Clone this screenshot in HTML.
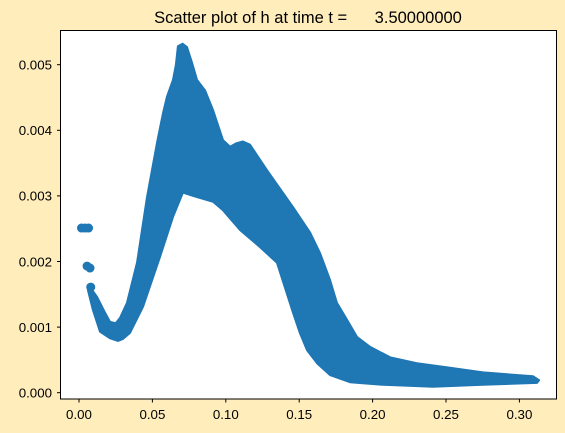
<!DOCTYPE html>
<html><head><meta charset="utf-8"><style>
html,body{margin:0;padding:0;background:#ffedbc;}
svg{display:block;font-family:"Liberation Sans","DejaVu Sans",sans-serif;}
</style></head><body>
<svg id="chart" width="565" height="433" viewBox="0 0 565 433" xmlns="http://www.w3.org/2000/svg">
<rect x="0" y="0" width="565" height="433" fill="#ffedbc"/>
<rect x="60.5" y="30.5" width="496" height="368.5" fill="#ffffff"/>
<g id="marks"></g>
<rect x="60.5" y="30.5" width="496" height="368.5" fill="none" stroke="#000" stroke-width="1"/>
<g id="xaxis"></g>
<g id="yaxis"></g>
<text x="308" y="23" text-anchor="middle" font-size="16.5" fill="#000" xml:space="preserve">Scatter plot of h at time t =      3.50000000</text>
</svg>
<script>
const xTicks = [0, 0.05, 0.10, 0.15, 0.20, 0.25, 0.30];
const xTickLabels = ["0.00","0.05","0.10","0.15","0.20","0.25","0.30"];
const yTicks = [0, 0.001, 0.002, 0.003, 0.004, 0.005];
const yTickLabels = ["0.000","0.001","0.002","0.003","0.004","0.005"];
const upperX = [.0075,.0123,.0170,.0211,.0250,.0279,.0327,.0395,.0463,.0531,.0572,.0599,.0640,.0660,.0674,.0705,.0736,.0770,.0804,.0858,.0913,.0981,.1029,.1070,.1117,.1165,.1281,.1458,.1574,.1642,.1710,.1757,.1826,.1894,.1982,.2119,.2302,.2527,.2752,.3093,.3134];
const upperY = [.00161,.00146,.00125,.00108,.00106,.00114,.00137,.00198,.00298,.00381,.00426,.00451,.00477,.00500,.00528,.00532,.00527,.00503,.00477,.00461,.00431,.00385,.00375,.00380,.00383,.00378,.00339,.00283,.00244,.00213,.00172,.00137,.00111,.00085,.00070,.00054,.00045,.00038,.00031,.00025,.00019];
const lowerX = [.3120,.2752,.2411,.2071,.1846,.1710,.1621,.1553,.1505,.1458,.1349,.1233,.1097,.0981,.0913,.0777,.0708,.0640,.0552,.0436,.0347,.0300,.0266,.0211,.0143,.0095,.0061];
const lowerY = [.00015,.00012,.00009,.00012,.00016,.00027,.00045,.00065,.00091,.00122,.00198,.00222,.00248,.00278,.00291,.00300,.00305,.00268,.00207,.00131,.00091,.00082,.00079,.00083,.00093,.00126,.00156];
const blobX = [.0017,.0041,.0065,.0055,.0075,.0080];
const blobY = [.00251,.00251,.00251,.00193,.00190,.00161];

const NS = "http://www.w3.org/2000/svg";
function sx(v){ return 79 + v * 1468; }
function sy(v){ return 392.7 - v * 65600; }
const marks = document.getElementById('marks');
const col = "#1f77b4";

let d = "";
for (let i = 0; i < upperX.length; i++) d += (i ? "L" : "M") + sx(upperX[i]).toFixed(1) + "," + sy(upperY[i]).toFixed(1);
for (let i = 0; i < lowerX.length; i++) d += "L" + sx(lowerX[i]).toFixed(1) + "," + sy(lowerY[i]).toFixed(1);
d += "Z";
const band = document.createElementNS(NS, "path");


band.setAttribute("d", d);
band.setAttribute("fill", col);
band.setAttribute("stroke", col);
band.setAttribute("stroke-width", "2");
band.setAttribute("stroke-linejoin", "round");
marks.appendChild(band);

for (let i = 0; i < blobX.length; i++) {
  const c = document.createElementNS(NS, "circle");
  
  
  c.setAttribute("cx", sx(blobX[i]));
  c.setAttribute("cy", sy(blobY[i]));
  c.setAttribute("r", 4.5);
  c.setAttribute("fill", col);
  marks.appendChild(c);
}

const xa = document.getElementById('xaxis');
xTicks.forEach((v, i) => {
  const t = document.createElementNS(NS, "line");
  
  
  t.setAttribute("x1", sx(v)); t.setAttribute("x2", sx(v));
  t.setAttribute("y1", 399); t.setAttribute("y2", 402.5);
  t.setAttribute("stroke", "#000");
  xa.appendChild(t);
  const l = document.createElementNS(NS, "text");
  
  
  l.setAttribute("x", sx(v)); l.setAttribute("y", 419);
  l.setAttribute("text-anchor", "middle");
  l.setAttribute("font-size", "13.3");
  l.textContent = xTickLabels[i];
  xa.appendChild(l);
});
const ya = document.getElementById('yaxis');
yTicks.forEach((v, i) => {
  const t = document.createElementNS(NS, "line");
  
  
  t.setAttribute("x1", 57); t.setAttribute("x2", 60.5);
  t.setAttribute("y1", sy(v)); t.setAttribute("y2", sy(v));
  t.setAttribute("stroke", "#000");
  ya.appendChild(t);
  const l = document.createElementNS(NS, "text");
  
  
  l.setAttribute("x", 52); l.setAttribute("y", sy(v) + 4.8);
  l.setAttribute("text-anchor", "end");
  l.setAttribute("font-size", "13.3");
  l.textContent = yTickLabels[i];
  ya.appendChild(l);
});
</script>
</body></html>
